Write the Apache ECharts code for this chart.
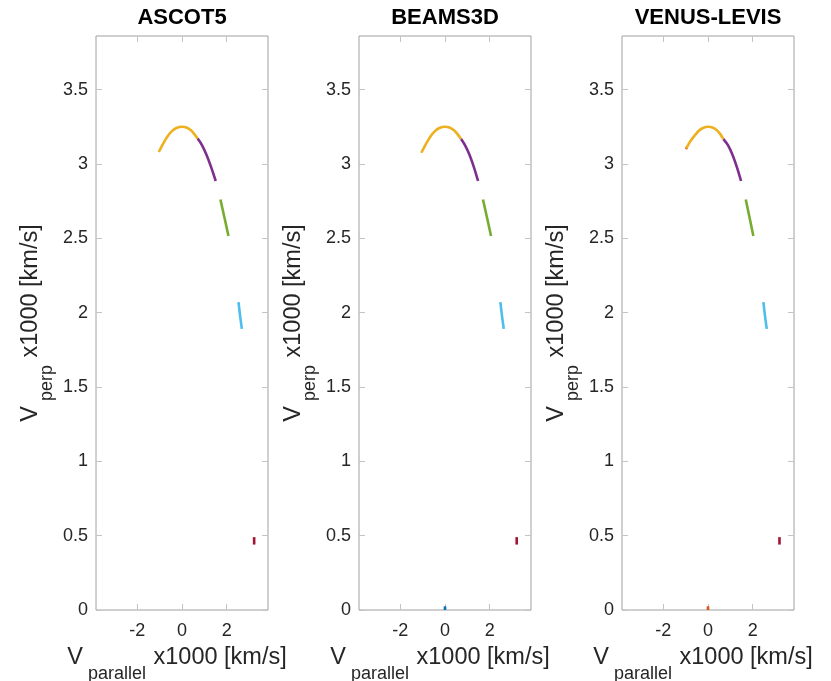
<!DOCTYPE html>
<html>
<head>
<meta charset="utf-8">
<script src="https://cdn.jsdelivr.net/npm/echarts@6/dist/echarts.min.js"></script>
<style>html,body{margin:0;padding:0;background:#fff;}#c{width:831px;height:681px;}</style>
</head>
<body>
<div id="c"></div>
<script>
// ---- data ----
const titles = ['ASCOT5', 'BEAMS3D', 'VENUS-LEVIS'];
const xTicks = [-2, 0, 2];
const yTicks = [0, 0.5, 1, 1.5, 2, 2.5, 3, 3.5];

const ascotOrange = [[-1.04,3.08],[-0.85,3.135],[-0.65,3.185],[-0.45,3.22],[-0.25,3.241],[0,3.25],[0.2,3.245],[0.4,3.226],[0.55,3.2],[0.7,3.17]];
const ascotPurple = [[0.7,3.17],[0.9,3.125],[1.1,3.06],[1.3,2.98],[1.51,2.885]];
const ascotGreen  = [[1.72,2.76],[1.9,2.64],[2.08,2.515]];
const ascotBlue   = [[2.53,2.07],[2.6,1.98],[2.68,1.89]];
const ascotRed    = [[3.23,0.49],[3.23,0.44]];

const beamsOrange = [[-1.06,3.075],[-0.85,3.135],[-0.65,3.185],[-0.45,3.22],[-0.25,3.241],[0,3.25],[0.2,3.245],[0.4,3.226],[0.56,3.2],[0.72,3.167]];
const beamsPurple = [[0.72,3.167],[0.9,3.125],[1.1,3.06],[1.3,2.975],[1.48,2.885]];
const beamsGreen  = [[1.70,2.76],[1.88,2.64],[2.06,2.515]];
const beamsBlue   = [[2.48,2.07],[2.55,1.98],[2.63,1.89]];
const beamsRed    = [[3.21,0.49],[3.21,0.44]];
const beamsDot    = [[0,0],[0,0.025]];

const venusOrange = [[-0.97,3.105],[-0.8,3.15],[-0.6,3.19],[-0.4,3.224],[-0.2,3.243],[0,3.25],[0.2,3.245],[0.4,3.226],[0.55,3.2],[0.69,3.167]];
const venusStart  = [[-0.99,3.1],[-0.94,3.113]];
const venusPurple = [[0.69,3.167],[0.9,3.125],[1.1,3.06],[1.3,2.975],[1.48,2.885]];
const venusGreen  = [[1.69,2.76],[1.86,2.64],[2.03,2.515]];
const venusBlue   = [[2.48,2.07],[2.55,1.98],[2.63,1.89]];
const venusRed    = [[3.20,0.49],[3.20,0.44]];
const venusDot    = [[0,0],[0,0.025]];

const panels = [
  [[ascotOrange,'#EDB120'],[ascotPurple,'#7E2F8E'],[ascotGreen,'#77AC30'],[ascotBlue,'#4DBEEE'],[ascotRed,'#A2142F']],
  [[beamsDot,'#0072BD'],[beamsOrange,'#EDB120'],[beamsPurple,'#7E2F8E'],[beamsGreen,'#77AC30'],[beamsBlue,'#4DBEEE'],[beamsRed,'#A2142F']],
  [[venusDot,'#D95319'],[venusStart,'#D95319'],[venusOrange,'#EDB120'],[venusPurple,'#7E2F8E'],[venusGreen,'#77AC30'],[venusBlue,'#4DBEEE'],[venusRed,'#A2142F']]
];

// ---- layout ----
const FONT = '"Liberation Sans", Arial, Helvetica, sans-serif';
const gridLefts = [96, 359, 622];
const gridW = 172, gridTop = 36, gridH = 574;
const xMin = -3.85, xMax = 3.85, yMin = 0, yMax = 3.86;
const boxColor = '#a0a0a0', tickColor = '#c4c4c4', textColor = '#262626';

const LH = 37;
const xRich = {
  v: {fontSize: 23.5, fontFamily: FONT, color: textColor, lineHeight: LH, verticalAlign: 'top'},
  e: {fontSize: 23.5, fontFamily: FONT, color: textColor, lineHeight: LH, verticalAlign: 'top', padding: [0, 10, 0, 0]},
  s: {fontSize: 18, fontFamily: FONT, color: textColor, lineHeight: LH, verticalAlign: 'bottom', padding: [0, 1, 0, 5]}
};
const yRich = {
  v: {fontSize: 23.5, fontFamily: FONT, color: textColor, lineHeight: LH, verticalAlign: 'top'},
  e: {fontSize: 23.5, fontFamily: FONT, color: textColor, lineHeight: LH, verticalAlign: 'top'},
  s: {fontSize: 18, fontFamily: FONT, color: textColor, lineHeight: LH, verticalAlign: 'bottom', padding: [0, 1, 0, 5]}
};

const grid = [], xAxis = [], yAxis = [], series = [], graphic = [];
gridLefts.forEach((l, i) => {
  grid.push({left: l, top: gridTop, width: gridW, height: gridH, show: true, borderColor: boxColor, borderWidth: 1,
    backgroundColor: 'transparent', containLabel: false, outerBoundsMode: 'none'});
  const tick = {show: true, inside: true, length: 6, lineStyle: {color: tickColor, width: 1}};
  const line = {show: false, onZero: false};
  xAxis.push({
    type: 'value', gridIndex: i, min: xMin, max: xMax, position: 'bottom',
    axisLine: line, splitLine: {show: false},
    axisTick: Object.assign({customValues: xTicks}, tick),
    axisLabel: {customValues: xTicks, fontSize: 18, fontFamily: FONT, color: textColor, margin: 12},
    name: '{v|V}{s|parallel}{e| x1000 [km/s]}', nameLocation: 'middle', nameGap: 36,
    nameTextStyle: {rich: xRich}
  });
  xAxis.push({
    type: 'value', gridIndex: i, min: xMin, max: xMax, position: 'top',
    axisLine: line, splitLine: {show: false},
    axisTick: Object.assign({customValues: xTicks}, tick),
    axisLabel: {show: false}
  });
  yAxis.push({
    type: 'value', gridIndex: i, min: yMin, max: yMax, position: 'left',
    axisLine: line, splitLine: {show: false},
    axisTick: Object.assign({customValues: yTicks}, tick),
    axisLabel: {customValues: yTicks, fontSize: 18, fontFamily: FONT, color: textColor, margin: 8},
    name: '{v|V}{s|perp}{e| x1000 [km/s]}', nameLocation: 'middle', nameGap: 40,
    nameTextStyle: {rich: yRich}
  });
  yAxis.push({
    type: 'value', gridIndex: i, min: yMin, max: yMax, position: 'right',
    axisLine: line, splitLine: {show: false},
    axisTick: Object.assign({customValues: yTicks}, tick),
    axisLabel: {show: false}
  });
  panels[i].forEach(([data, color]) => {
    series.push({
      type: 'line', xAxisIndex: 2 * i, yAxisIndex: 2 * i, data: data,
      showSymbol: false, smooth: 0.3, clip: false, silent: true, animation: false,
      lineStyle: {color: color, width: 2.6, cap: 'butt'}
    });
  });
  graphic.push({
    type: 'text', x: l + gridW / 2, y: 18,
    style: {text: titles[i], textAlign: 'center', textVerticalAlign: 'middle',
      font: 'bold 22px ' + FONT, fill: '#000'}
  });
});

const chart = echarts.init(document.getElementById('c'), null, {renderer: 'canvas'});
chart.setOption({animation: false, backgroundColor: '#fff', grid, xAxis, yAxis, series, graphic});
</script>
</body>
</html>
